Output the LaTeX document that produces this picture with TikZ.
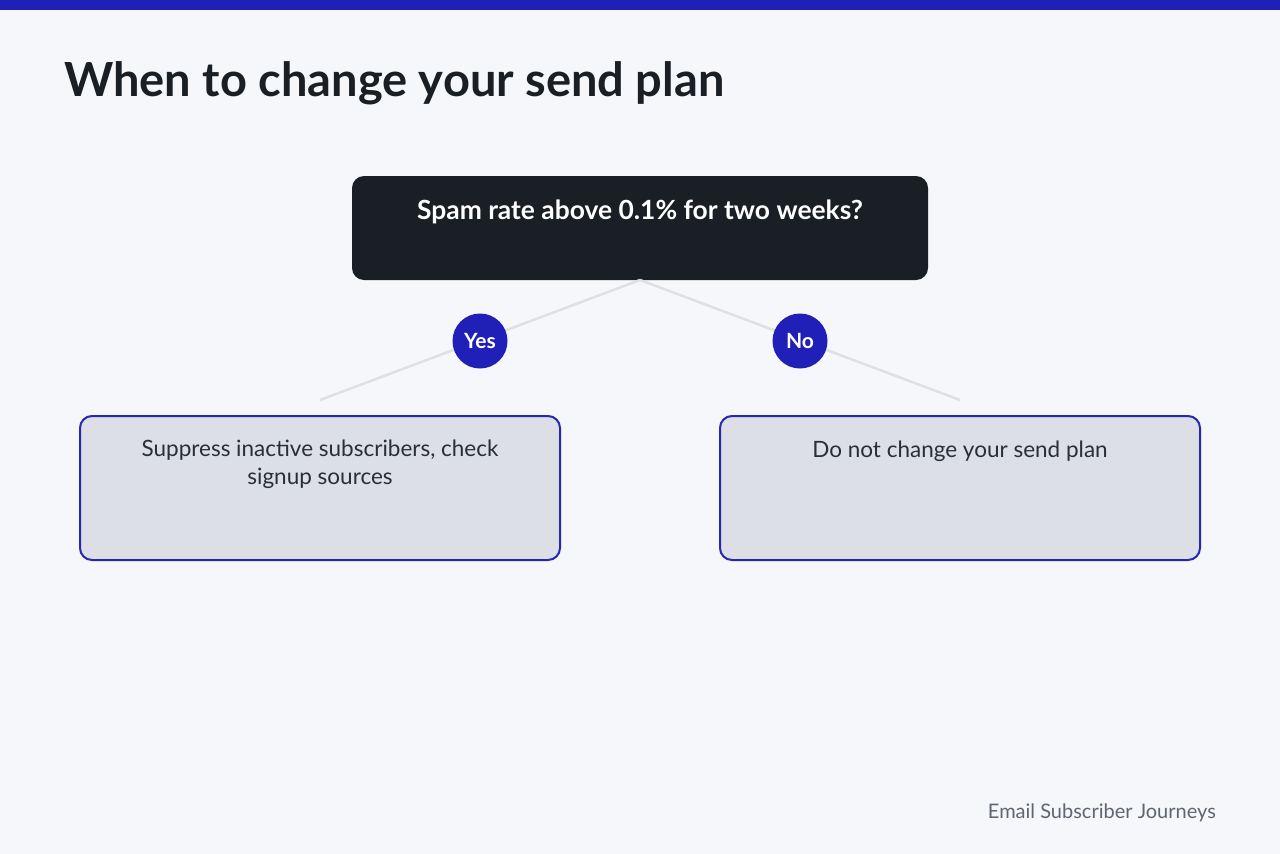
\documentclass[tikz,border=0pt]{standalone}
\usepackage{fontspec}
\setmainfont{Lato}
\usetikzlibrary{positioning}
\definecolor{bgpage}{HTML}{F5F7FA}
\definecolor{barblue}{HTML}{2020B8}
\definecolor{inkdark}{HTML}{1A1F26}
\definecolor{anscolor}{HTML}{2A2F37}
\definecolor{linkgray}{HTML}{DDE0E4}
\definecolor{ansfill}{HTML}{DCDFE6}
\definecolor{ansborder}{HTML}{2626AE}
\definecolor{foottext}{HTML}{5F6672}
\tikzset{
    question/.style = {rectangle, rounded corners=12pt, fill=inkdark, minimum width=576pt, minimum height=104pt, inner sep=0pt},
    questext/.style = {text=white, font=\fontsize{26.4}{30}\selectfont\bfseries, inner sep=0pt},
    answer/.style = {rectangle, rounded corners=12pt, draw=ansborder, line width=2pt, fill=ansfill, minimum width=480pt, minimum height=144pt, inner sep=0pt},
    anstext/.style = {text=anscolor, font=\fontsize{22.5}{28}\selectfont, align=center, inner sep=0pt},
    choice/.style = {circle, fill=barblue, minimum size=55pt, inner sep=0pt, text=white, font=\fontsize{21}{24}\selectfont\bfseries},
    link/.style = {draw=linkgray, line width=2.5pt},
}
\begin{document}
\begin{tikzpicture}[x=1pt,y=-1pt]
%
\useasboundingbox (0,0) rectangle (1280,854);
\fill[bgpage] (0,0) rectangle (1280,854);
\fill[barblue] (0,0) rectangle (1280,10);
\node[anchor=base west, inner sep=0pt, text=inkdark, font=\fontsize{47}{52}\selectfont\bfseries] (title) at (64,96) {When to change your send plan};
%
\node[question] at (640,228) (q) {};
\node[questext, anchor=base] at (640,219) (qtext) {Spam rate above 0.1\% for two weeks?};
\coordinate (qfoot) at (640,280);
\coordinate (yesend) at (320,400);
\coordinate (noend) at (960,400);
\draw[link] (qfoot) -- (yesend);
\draw[link] (qfoot) -- (noend);
\node[choice] at (480,341) (yes) {Yes};
\node[choice] at (800,341) (no) {No};
%
\node[answer] at (320,488) (yesbox) {};
\node[anstext, anchor=north] at (320,440) (yestext) {Suppress inactive subscribers, check\\signup sources};
\node[answer] at (960,488) (nobox) {};
\node[anstext, anchor=base] at (960,457) (notext) {Do not change your send plan};
%
\node[anchor=base east, inner sep=0pt, text=foottext, font=\fontsize{20}{24}\selectfont] (foot) at (1216,818) {Email Subscriber Journeys};
\end{tikzpicture}
\end{document}
